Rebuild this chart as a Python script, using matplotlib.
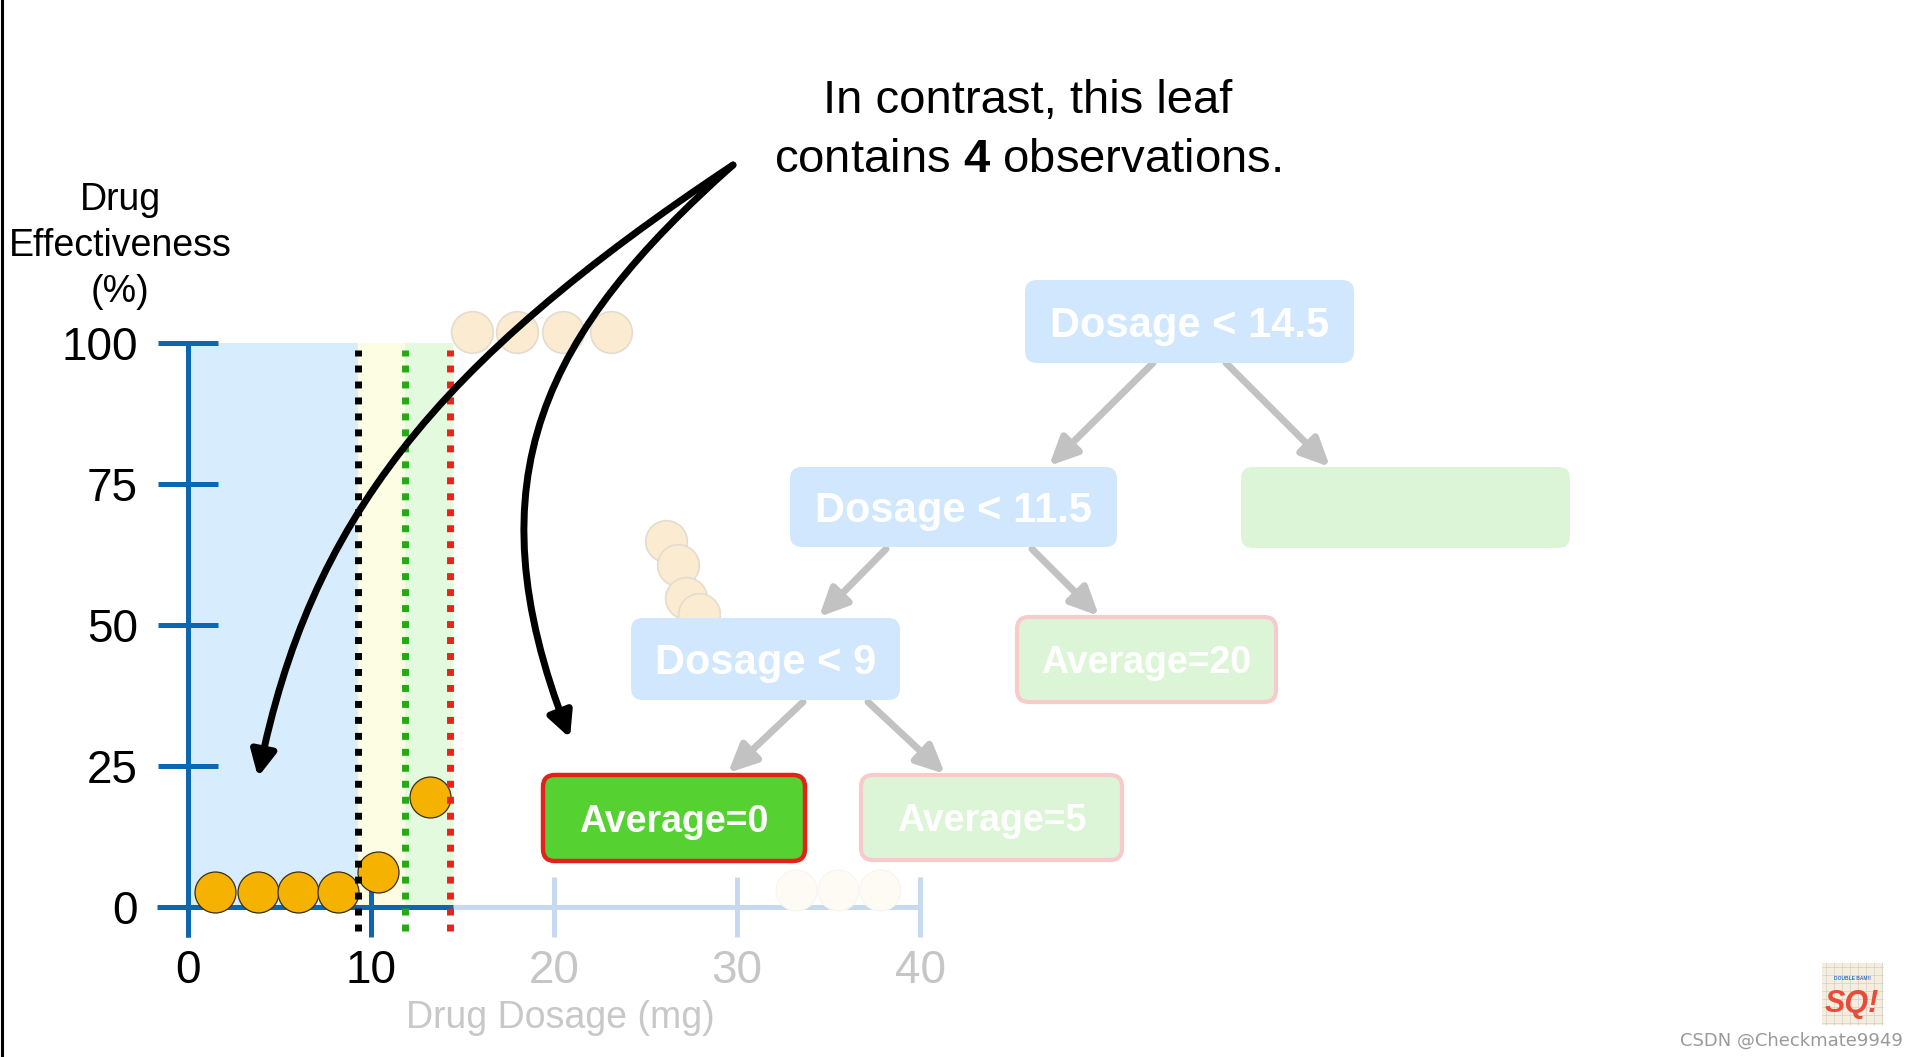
import numpy as np
import matplotlib.pyplot as plt
from matplotlib.patches import FancyBboxPatch, FancyArrowPatch, Rectangle
from matplotlib.path import Path

plt.rcParams['font.family'] = ['Liberation Sans', 'DejaVu Sans']
plt.rcParams['mathtext.fontset'] = 'custom'
plt.rcParams['mathtext.rm'] = 'Liberation Sans'
plt.rcParams['mathtext.bf'] = 'Liberation Sans:bold'

# observations in the highlighted leaf and its neighbours
dosage = [1.5, 3.8, 6.0, 8.2, 10.4, 13.2]
effectiveness = [2.7, 2.7, 2.7, 2.7, 6.2, 19.5]

# faded observations (rest of the data set, mid-animation)
faded_top_x = [15.5, 18.0, 20.5, 23.1]
faded_top_y = [102, 102, 102, 102]
faded_mid_x = [26.1, 26.8, 27.2, 27.9]
faded_mid_y = [64.9, 60.7, 54.8, 52.0]
faded_low_x = [33.2, 35.5, 37.8]
faded_low_y = [3, 3, 3]

# split thresholds (dotted lines) and shaded regions between them
splits = [9.3, 11.85, 14.3]
region_edges = [0, 9.3, 11.85, 14.5]

x_ticks = [0, 10, 20, 30, 40]
y_ticks = [0, 25, 50, 75, 100]
x_label = 'Drug Dosage (mg)'
y_label = ['Drug', 'Effectiveness', '(%)']
title_lines = ['In contrast, this leaf', r'contains $\mathbf{4}$ observations.']

node_labels = ['Dosage < 14.5', 'Dosage < 11.5', '', 'Dosage < 9',
               'Average=20', 'Average=0', 'Average=5']
node_kind = ['split', 'split', 'empty', 'split', 'faded', 'leaf', 'faded']
edges = [(0, 1), (0, 2), (1, 3), (1, 4), (3, 5), (3, 6)]

# ---- layout (pixels of the 1920x1057 frame) ----
W, H = 1920, 1057
X0_PX, X_SCALE = 188, 18.3
Y0_PX, Y_SCALE = 907, 5.64

node_boxes = [(1025, 280, 1354, 363), (790, 467, 1117, 547), (1241, 467, 1570, 548),
              (631, 618, 900, 700), (1017, 617, 1276, 702), (543, 775, 805, 861),
              (861, 775, 1122, 860)]
edge_ends = [((1153, 363), (1049, 466)), ((1226, 363), (1330, 467)),
             ((886, 549), (819, 617)), ((1032, 549), (1099, 616)),
             ((803, 702), (728, 773)), ((868, 702), (945, 774))]

blue = '#0b67b2'
light_axis = '#c6d9ee'
region_colors = ['#d7edfd', '#fdfde4', '#e3fade']
split_colors = ['black', '#25a915', '#e8241a']

fig = plt.figure(figsize=(W / 100, H / 100), dpi=100)
ax = fig.add_axes([0, 0, 1, 1])
ax.set_xlim(-X0_PX / X_SCALE, (W - X0_PX) / X_SCALE)
ax.set_ylim(-(H - Y0_PX) / Y_SCALE, Y0_PX / Y_SCALE)

# shaded regions
for i in range(len(region_colors)):
    ax.fill_between([region_edges[i], region_edges[i + 1]], 0, 100,
                    color=region_colors[i], lw=0, zorder=0)

# axes
for s in ['top', 'right']:
    ax.spines[s].set_visible(False)
ax.spines['left'].set_position(('data', 0))
ax.spines['bottom'].set_position(('data', 0))
ax.spines['left'].set_bounds(-5.3, 100)
ax.spines['bottom'].set_bounds(-1.7, region_edges[-1])
for s in ['left', 'bottom']:
    ax.spines[s].set_color(blue)
    ax.spines[s].set_linewidth(3.6)
    ax.spines[s].set_capstyle('butt')
ax.hlines(0, region_edges[-1], x_ticks[-1], color=light_axis, lw=3.6, zorder=1)

ax.set_xticks(x_ticks)
ax.set_yticks(y_ticks)
ax.tick_params(direction='inout', length=43, width=3.6, color=blue,
               labelsize=33, labelcolor='black')
ax.tick_params(axis='y', pad=14.5)
ax.tick_params(axis='x', pad=9)
for t, lab, loc in zip(ax.xaxis.get_major_ticks(), ax.get_xticklabels(), x_ticks):
    if loc > region_edges[-1]:
        t.tick1line.set_markeredgecolor(light_axis)
        lab.set_color('#c6c6c6')

# split lines
ax.vlines(splits, -4.3, 98.8, colors=split_colors, lw=5,
          linestyles=[(0, (1, 1.3))], zorder=5)

# points
ax.scatter(faded_low_x, faded_low_y, s=870, color='#fefaf4', edgecolor='#f8f5f1',
           lw=0.8, zorder=3)
ax.scatter(faded_top_x, faded_top_y, s=900, color='#fbebd0', edgecolor='#e4dccf',
           lw=1.2, zorder=3)
ax.scatter(faded_mid_x, faded_mid_y, s=900, color='#fbebd0', edgecolor='#e4dccf',
           lw=1.2, zorder=3)
ax.scatter(dosage, effectiveness, s=870, color='#f5b200', edgecolor='#3a2e10',
           lw=0.9, zorder=4)

# ---- overlay in pixel coordinates ----
ax2 = fig.add_axes([0, 0, 1, 1])
ax2.set_xlim(0, W)
ax2.set_ylim(H, 0)
ax2.axis('off')
ax2.patch.set_alpha(0)

ax2.text(560, 1028, x_label, fontsize=27, color='#c8c8c8', ha='center', va='baseline')
for txt, yb in zip(y_label, [210, 256, 302]):
    ax2.text(120, yb, txt, fontsize=27, ha='center', va='baseline')
for txt, yb in zip(title_lines, [113, 172]):
    ax2.text(1028, yb, txt, fontsize=34, ha='center', va='baseline')

# tree edges
for (p, q), (a, b) in zip(edges, edge_ends):
    ax2.add_patch(FancyArrowPatch(a, b, arrowstyle='-|>,head_length=17,head_width=8',
                                  mutation_scale=1, lw=5, color='#c2c2c2',
                                  shrinkA=0, shrinkB=0, zorder=2))

# tree nodes
styles = {
    'split': dict(fc='#d1e7fd', ec='none', lw=0, fs=30, tc='white'),
    'empty': dict(fc='#dcf5d6', ec='none', lw=0, fs=27, tc='white'),
    'faded': dict(fc='#ddf5d7', ec='#f8caca', lw=3, fs=27, tc='white'),
    'leaf': dict(fc='#55d232', ec='#e3231b', lw=3.2, fs=27, tc='white'),
}
for lab, kind, (x1, y1, x2, y2) in zip(node_labels, node_kind, node_boxes):
    st = styles[kind]
    ax2.add_patch(FancyBboxPatch((x1, y1), x2 - x1, y2 - y1,
                                 boxstyle='round,pad=0,rounding_size=12',
                                 fc=st['fc'], ec=st['ec'], lw=st['lw'], zorder=3))
    if lab:
        cap = 0.36 * st['fs'] * 100 / 72
        ax2.text((x1 + x2) / 2, (y1 + y2) / 2 + cap, lab, fontsize=st['fs'],
                 fontweight='bold', color=st['tc'], ha='center', va='baseline', zorder=4)

# big curved black arrows
code = [Path.MOVETO, Path.CURVE4, Path.CURVE4, Path.CURVE4]
arrow_paths = [
    [(733, 165), (433, 364), (310, 522), (258, 777)],
    [(733, 165), (546, 331), (468, 477), (570, 738)],
]
for verts in arrow_paths:
    ax2.add_patch(FancyArrowPatch(path=Path(verts, code),
                                  arrowstyle='-|>,head_length=15,head_width=7.5',
                                  mutation_scale=1, lw=5, color='black', zorder=6))

# frame edge on the left
ax2.plot([1.5, 1.5], [0, H], color='black', lw=2.2, zorder=7)

# watermark + logo
ax2.add_patch(Rectangle((1822, 963), 61, 62, fc='#f6eedb', ec='none', zorder=3))
for g in range(1826, 1883, 8):
    ax2.plot([g, g], [963, 1025], color='#cfcfcf', lw=0.5, zorder=3)
for g in range(967, 1025, 8):
    ax2.plot([1822, 1883], [g, g], color='#cfcfcf', lw=0.5, zorder=3)
ax2.text(1853, 978, 'DOUBLE BAM!!', fontsize=3.5, color='#2f6fd0', fontweight='bold',
         ha='center', va='center', zorder=4)
ax2.text(1852, 1012, 'SQ!', fontsize=22, color='#ea4a3a', fontweight='bold',
         ha='center', va='baseline', style='italic', zorder=4)
ax2.text(1903, 1046, 'CSDN @Checkmate9949', fontsize=13, color='#9a9a9a',
         family='DejaVu Sans', ha='right', va='baseline', zorder=4)

fig.savefig('out.png', dpi=100, facecolor='white')
